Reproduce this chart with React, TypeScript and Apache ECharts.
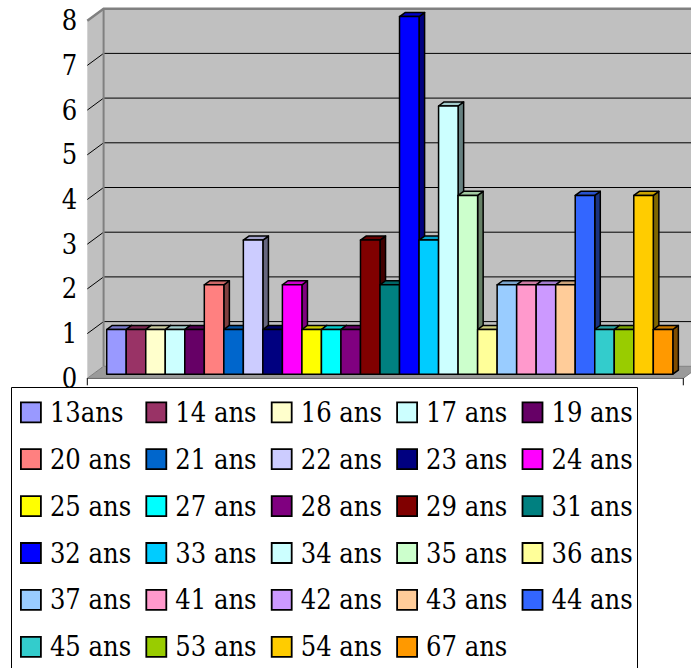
import React, { useEffect, useRef } from 'react';
import * as echarts from 'echarts';

const ages = ['13ans', '14 ans', '16 ans', '17 ans', '19 ans', '20 ans', '21 ans', '22 ans', '23 ans', '24 ans', '25 ans', '27 ans', '28 ans', '29 ans', '31 ans', '32 ans', '33 ans', '34 ans', '35 ans', '36 ans', '37 ans', '41 ans', '42 ans', '43 ans', '44 ans', '45 ans', '53 ans', '54 ans', '67 ans'];
const counts = [1, 1, 1, 1, 1, 2, 1, 3, 1, 2, 1, 1, 1, 3, 2, 8, 3, 6, 4, 1, 2, 2, 2, 2, 4, 1, 1, 4, 1];
const colors = ['#9999FF', '#993366', '#FFFFCC', '#CCFFFF', '#660066', '#FF8080', '#0066CC', '#CCCCFF', '#000080', '#FF00FF', '#FFFF00', '#00FFFF', '#800080', '#800000', '#008080', '#0000FF', '#00CCFF', '#CCFFFF', '#CCFFCC', '#FFFF99', '#99CCFF', '#FF99CC', '#CC99FF', '#FFCC99', '#3366FF', '#33CCCC', '#99CC00', '#FFCC00', '#FF9900'];
const yTicks = [0, 1, 2, 3, 4, 5, 6, 7, 8];

const X_MIN = -0.71;
const X_MAX = 29.82;
const DEPTH = [16.3, -12];
const F1 = 0.34;
const F2 = 0.68;
const FONT = 'DejaVu Serif Condensed';

function shade(hex: string, k: number) {
  const n = parseInt(hex.slice(1), 16);
  const r = Math.round(((n >> 16) & 255) * k);
  const g = Math.round(((n >> 8) & 255) * k);
  const b = Math.round((n & 255) * k);
  return `rgb(${r},${g},${b})`;
}

export default function App() {
  const ref = useRef<HTMLDivElement>(null);
  useEffect(() => {
    document.body.style.margin = '0';
    const chart = echarts.init(ref.current!, null, { renderer: 'svg' });
    const yMax = yTicks[yTicks.length - 1];

    const frameSeries: any = {
      type: 'custom',
      name: '__frame',
      silent: true,
      z: 1,
      data: [[0, 0]],
      renderItem: (_p: any, api: any) => {
        const [dx, dy] = DEPTH;
        const c = (x: number, v: number) => api.coord([x, v]);
        const fb = c(X_MIN, 0);
        const ft = c(X_MIN, yMax);
        const rb = c(X_MAX, 0);
        const rt = c(X_MAX, yMax);
        const back = (p: number[]) => [p[0] + dx, p[1] + dy];
        const children: any[] = [];
        children.push({ type: 'polygon', shape: { points: [fb, ft, back(ft), back(fb)] }, style: { fill: '#C0C0C0', stroke: 'none' } });
        children.push({ type: 'polygon', shape: { points: [back(fb), back(ft), back(rt), back(rb)] }, style: { fill: '#C0C0C0', stroke: 'none' } });
        children.push({ type: 'polygon', shape: { points: [fb, rb, back(rb), back(fb)] }, style: { fill: '#9A9A9A', stroke: '#808080', lineWidth: 1 } });
        yTicks.slice(1, -1).forEach((v) => {
          const p = c(X_MIN, v);
          const q = c(X_MAX, v);
          children.push({ type: 'line', shape: { x1: p[0], y1: p[1], x2: p[0] + dx, y2: p[1] + dy }, style: { stroke: '#000', lineWidth: 1 } });
          children.push({ type: 'line', shape: { x1: p[0] + dx, y1: p[1] + dy, x2: q[0] + dx, y2: q[1] + dy }, style: { stroke: '#000', lineWidth: 1 } });
        });
        children.push({ type: 'polyline', shape: { points: [ft, back(ft), back(rt)] }, style: { stroke: '#808080', lineWidth: 2.5, fill: 'none' } });
        children.push({ type: 'line', shape: { x1: back(ft)[0], y1: back(ft)[1], x2: back(fb)[0], y2: back(fb)[1] }, style: { stroke: '#808080', lineWidth: 2 } });
        children.push({ type: 'line', shape: { x1: fb[0], y1: fb[1], x2: fb[0], y2: fb[1] + 7 }, style: { stroke: '#000', lineWidth: 1 } });
        children.push({ type: 'line', shape: { x1: rb[0], y1: rb[1], x2: rb[0], y2: rb[1] + 7 }, style: { stroke: '#000', lineWidth: 1 } });
        return { type: 'group', children };
      },
    };

    const barSeries: any[] = ages.map((name, i) => {
      const col = colors[i];
      const top = shade(col, 0.8);
      const side = shade(col, 0.5);
      return {
        type: 'custom',
        name,
        z: 2,
        itemStyle: { color: col },
        data: [[i, counts[i]]],
        encode: { x: 0, y: 1 },
        renderItem: (_p: any, api: any) => {
          const idx = api.value(0);
          const v = api.value(1);
          const a = api.coord([idx, 0]);
          const b = api.coord([idx + 1, v]);
          const x0 = a[0] + DEPTH[0] * F1;
          const x1 = b[0] + DEPTH[0] * F1;
          const yb = a[1] + DEPTH[1] * F1;
          const yt = b[1] + DEPTH[1] * F1;
          const dx = DEPTH[0] * (F2 - F1);
          const dy = DEPTH[1] * (F2 - F1);
          const st = { stroke: '#000', lineWidth: 1.5, lineJoin: 'round' };
          return {
            type: 'group',
            children: [
              { type: 'polygon', shape: { points: [[x1, yt], [x1, yb], [x1 + dx, yb + dy], [x1 + dx, yt + dy]] }, style: { fill: side, ...st } },
              { type: 'polygon', shape: { points: [[x0, yt], [x1, yt], [x1 + dx, yt + dy], [x0 + dx, yt + dy]] }, style: { fill: top, ...st } },
              { type: 'rect', shape: { x: x0, y: yt, width: x1 - x0, height: yb - yt }, style: { fill: col, ...st } },
            ],
          };
        },
      };
    });

    const legends = [0, 1, 2, 3, 4].map((c) => ({
      orient: 'vertical',
      left: 20 + 125.4 * c,
      top: 397.3,
      padding: 0,
      itemGap: 16.9,
      itemWidth: 20,
      itemHeight: 20,
      icon: 'rect',
      z: 10,
      selectedMode: false,
      itemStyle: { borderColor: '#000', borderWidth: 1.8 },
      textStyle: { fontFamily: FONT, fontSize: 27, color: '#000', lineHeight: 30, padding: [0, 0, 0, 4] },
      data: ages.filter((_, i) => i % 5 === c),
    }));

    chart.setOption({
      animation: false,
      backgroundColor: '#fff',
      grid: { left: 87.3, right: 7.7, top: 20.7, bottom: 289.7, outerBoundsMode: 'none', containLabel: false },
      xAxis: {
        type: 'value',
        min: X_MIN,
        max: X_MAX,
        axisLine: { show: true, lineStyle: { color: '#000', width: 1 } },
        axisTick: { show: false },
        axisLabel: { show: false },
        splitLine: { show: false },
      },
      yAxis: {
        type: 'value',
        min: 0,
        max: yMax,
        interval: 1,
        axisLine: { show: true, lineStyle: { color: '#000', width: 1 } },
        axisTick: { show: true, length: 7, lineStyle: { color: '#000' } },
        axisLabel: { fontFamily: FONT, fontSize: 27, color: '#000', margin: 10 },
        splitLine: { show: false },
      },
      legend: legends,
      graphic: [
        {
          type: 'rect',
          z: 5,
          shape: { x: 11.5, y: 387.5, width: 626, height: 400 },
          style: { fill: '#fff', stroke: '#000', lineWidth: 1 },
        },
      ],
      series: [frameSeries, ...barSeries],
    });
    return () => chart.dispose();
  }, []);
  return <div ref={ref} style={{ position: 'fixed', left: 0, top: 0, width: 691, height: 668 }} />;
}
